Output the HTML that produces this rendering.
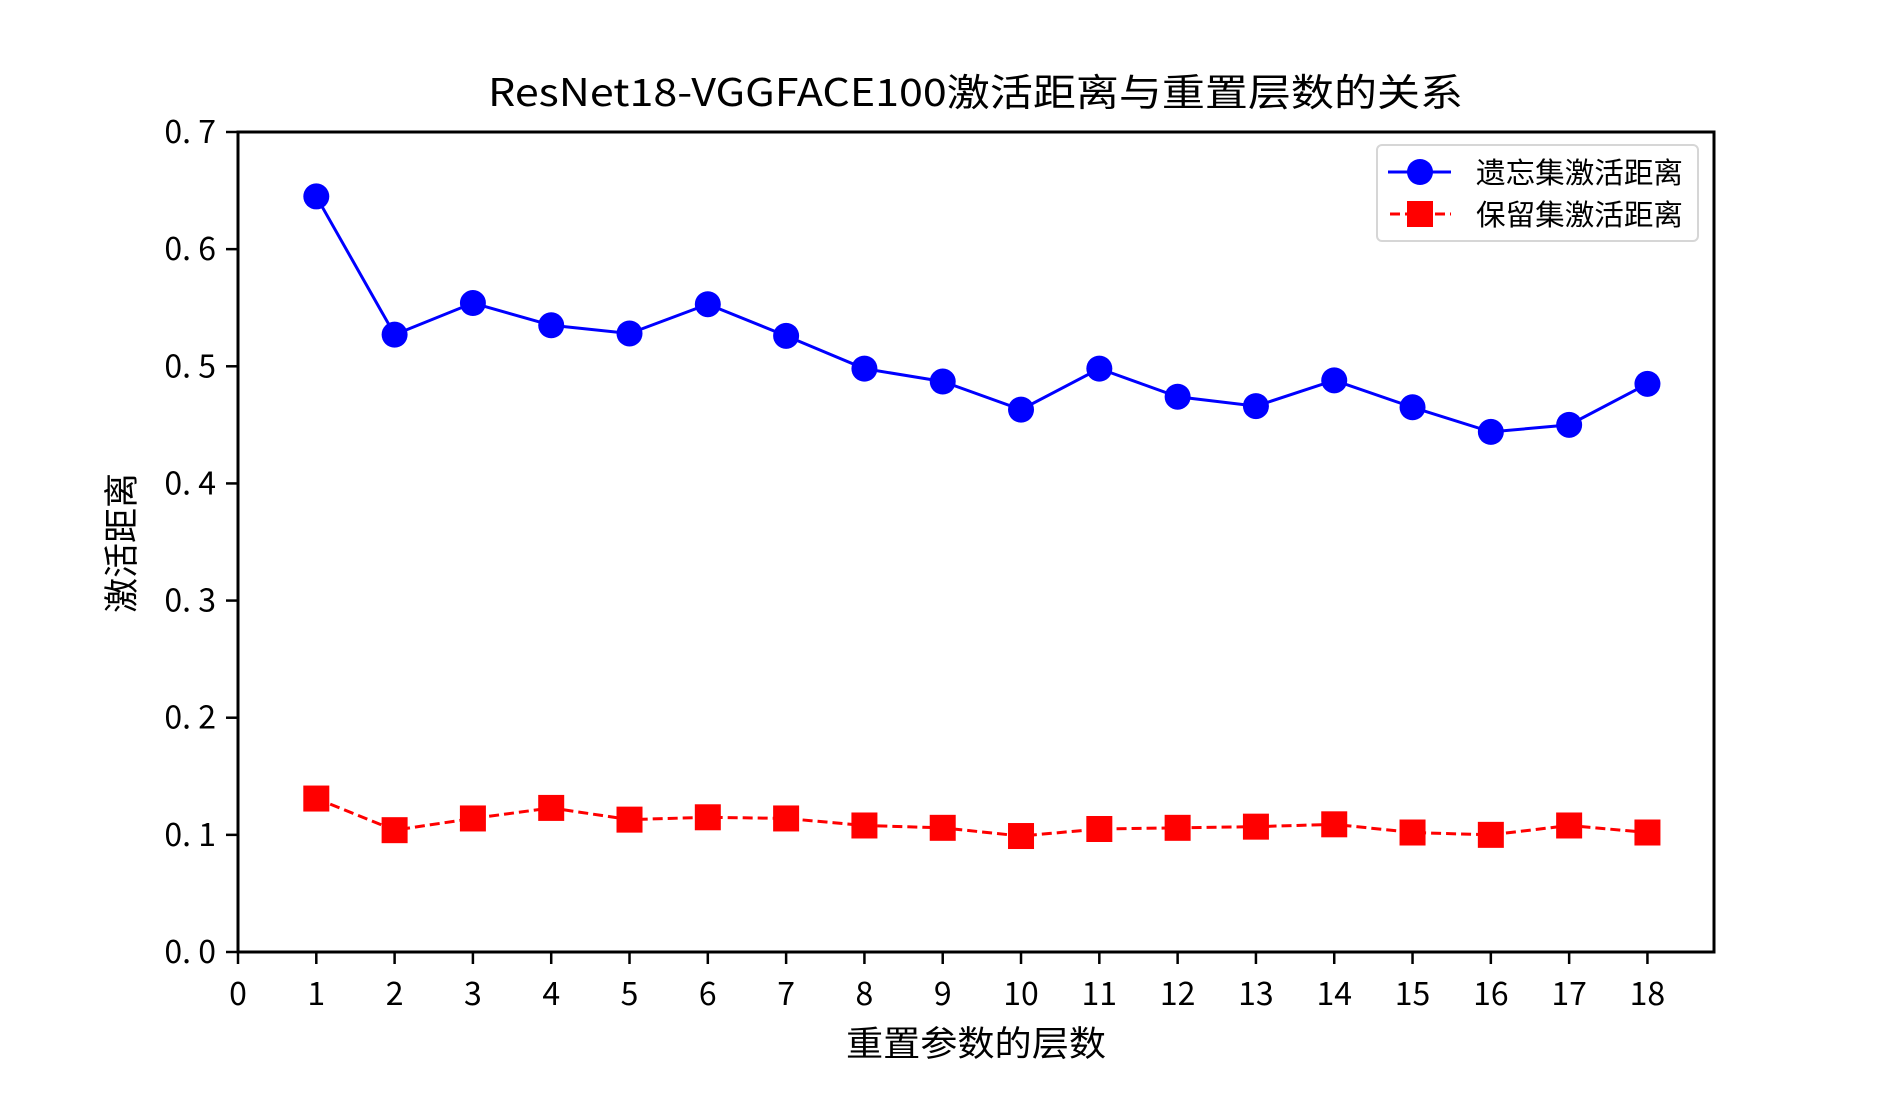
<!DOCTYPE html>
<html><head><meta charset="utf-8"><style>
html,body{margin:0;padding:0;background:#fff}
svg text{font-family:"WenQuanYi Zen Hei","Noto Sans CJK SC",sans-serif;fill:#000}
</style></head><body>
<svg id="chart" width="1904" height="1088" viewBox="0 0 1904 1088" xmlns="http://www.w3.org/2000/svg">
<rect width="1904" height="1088" fill="#fff"/>
<text x="488" y="106" font-size="38" textLength="975" lengthAdjust="spacingAndGlyphs">ResNet18-VGGFACE100激活距离与重置层数的关系</text>
<g id="axes"></g>
<g id="series"></g>
<text x="846" y="1056" font-size="35" textLength="260" lengthAdjust="spacingAndGlyphs">重置参数的层数</text>
<text x="0" y="0" font-size="35" text-anchor="middle" transform="translate(134,543) rotate(-90)">激活距离</text>
<g>
<rect x="1377" y="145" width="321" height="96" rx="5" fill="#fff" stroke="#d6d6d6" stroke-width="2"/>
<g>
<line x1="1388" y1="172" x2="1451" y2="172" stroke="#0000ff" stroke-width="3"/>
<circle cx="1420" cy="172" r="13" fill="#0000ff"/>
<text x="1476" y="183" font-size="29" textLength="207" lengthAdjust="spacingAndGlyphs">遗忘集激活距离</text>
</g>
<g>
<line x1="1390" y1="214" x2="1451" y2="214" stroke="#ff0000" stroke-width="3" stroke-dasharray="10,5"/>
<rect x="1407" y="201" width="26" height="26" fill="#ff0000"/>
<text x="1476" y="225" font-size="29" textLength="207" lengthAdjust="spacingAndGlyphs">保留集激活距离</text>
</g>
</g>
</svg>
<script>
const layers = [1,2,3,4,5,6,7,8,9,10,11,12,13,14,15,16,17,18];
const forgetValues = [0.645,0.527,0.554,0.535,0.528,0.553,0.526,0.498,0.487,0.463,0.498,0.474,0.466,0.488,0.465,0.444,0.450,0.485];
const retainValues = [0.131,0.104,0.114,0.123,0.113,0.115,0.114,0.108,0.106,0.099,0.105,0.106,0.107,0.109,0.102,0.100,0.108,0.102];
const xTicks = [0,1,2,3,4,5,6,7,8,9,10,11,12,13,14,15,16,17,18];
const yTicks = [0.0,0.1,0.2,0.3,0.4,0.5,0.6,0.7];
const yTickLabels = ["0. 0","0. 1","0. 2","0. 3","0. 4","0. 5","0. 6","0. 7"];

const L=238,R=1714,T=132,B=952;
const xMin=0,xMax=18.85,yMin=0,yMax=0.7;
function xs(v){return L+(v-xMin)/(xMax-xMin)*(R-L);}
function ys(v){return B-(v-yMin)/(yMax-yMin)*(B-T);}
const NS="http://www.w3.org/2000/svg";
function mk(tag,attrs,parent){const e=document.createElementNS(NS,tag);for(const k in attrs)e.setAttribute(k,attrs[k]);parent.appendChild(e);return e;}
const axes=document.getElementById('axes');
const frame=mk('rect',{x:L,y:T,width:R-L,height:B-T,fill:'none',stroke:'#000','stroke-width':3},axes);


xTicks.forEach(t=>{
  const x=xs(t);
  const tk=mk('line',{x1:x,y1:B,x2:x,y2:B+12,stroke:'#000','stroke-width':2.5},axes);
  
  
  const tx=mk('text',{x:x,y:B+53,'font-size':32,'text-anchor':'middle'},axes);
  tx.textContent=String(t);
  
  
});
yTicks.forEach((t,i)=>{
  const y=ys(t);
  const tk=mk('line',{x1:L-12,y1:y,x2:L,y2:y,stroke:'#000','stroke-width':2.5},axes);
  
  
  const tx=mk('text',{x:L-22,y:y+11,'font-size':32,'text-anchor':'end'},axes);
  tx.textContent=yTickLabels[i];
  
  
});
const ser=document.getElementById('series');
const p1=mk('polyline',{points:layers.map((l,i)=>xs(l)+','+ys(forgetValues[i])).join(' '),fill:'none',stroke:'#0000ff','stroke-width':3},ser);


const p2=mk('polyline',{points:layers.map((l,i)=>xs(l)+','+ys(retainValues[i])).join(' '),fill:'none',stroke:'#ff0000','stroke-width':3,'stroke-dasharray':'10,5'},ser);


layers.forEach((l,i)=>{
  const c=mk('circle',{cx:xs(l),cy:ys(forgetValues[i]),r:13,fill:'#0000ff'},ser);
  
  
  const s=mk('rect',{x:xs(l)-13,y:ys(retainValues[i])-13,width:26,height:26,fill:'#ff0000'},ser);
  
  
});
</script>
</body></html>
